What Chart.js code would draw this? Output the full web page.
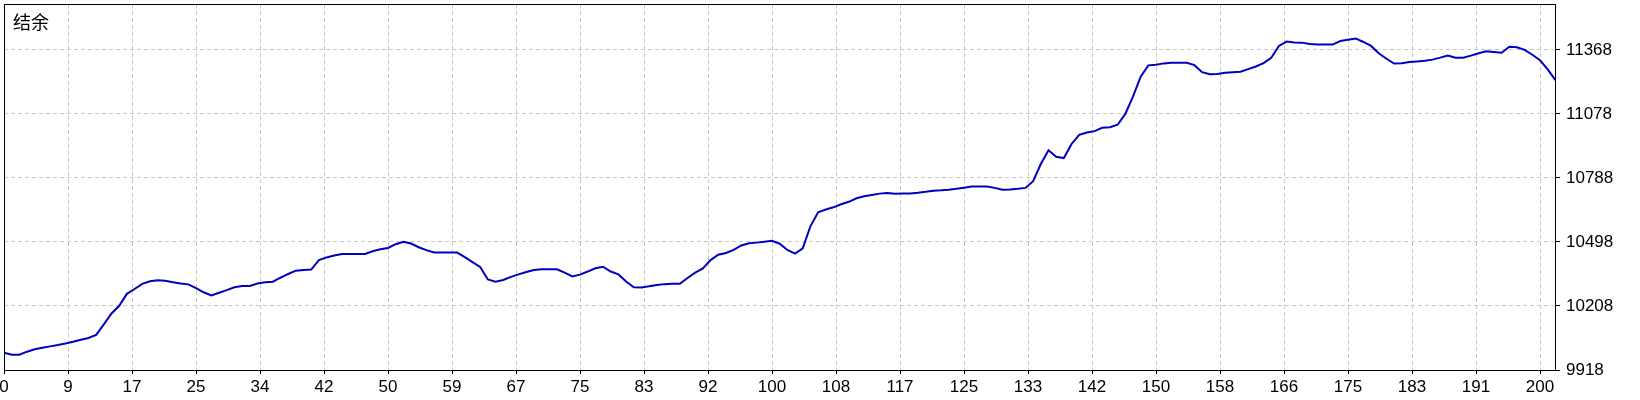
<!DOCTYPE html>
<html>
<head>
<meta charset="utf-8">
<script src="https://cdn.jsdelivr.net/npm/chart.js@4/dist/chart.umd.min.js"></script>
<style>
  html, body { margin: 0; padding: 0; background: #fff; }
  #wrap { width: 1640px; height: 400px; }
</style>
</head>
<body>
<div id="wrap"><canvas id="balance" width="1640" height="400"></canvas></div>
<script>
"use strict";

const chartTitle = '结余';

// balance per trade
const balance = [
    9996, 9987, 9987, 10001, 10012, 10019, 10025, 10031, 10038, 10046,
    10055, 10063, 10077, 10125, 10174, 10209, 10263, 10285, 10308, 10320,
    10324, 10322, 10316, 10310, 10306, 10289, 10270, 10256, 10268, 10280,
    10293, 10298, 10299, 10310, 10315, 10318, 10336, 10353, 10368, 10371,
    10373, 10416, 10428, 10437, 10443, 10444, 10444, 10444, 10456, 10465,
    10471, 10488, 10499, 10491, 10474, 10461, 10450, 10450, 10450, 10450,
    10429, 10407, 10385, 10328, 10318, 10326, 10340, 10351, 10362, 10371,
    10374, 10374, 10374, 10359, 10342, 10350, 10364, 10379, 10386, 10364,
    10351, 10319, 10293, 10292, 10297, 10303, 10307, 10309, 10309, 10335,
    10359, 10378, 10416, 10440, 10448, 10462, 10482, 10492, 10495, 10499,
    10503, 10490, 10462, 10445, 10469, 10569, 10632, 10645, 10655, 10669,
    10680, 10696, 10705, 10711, 10717, 10720, 10716, 10717, 10718, 10721,
    10725, 10730, 10732, 10735, 10739, 10744, 10749, 10749, 10749, 10743,
    10735, 10736, 10739, 10743, 10773, 10851, 10913, 10884, 10878, 10942,
    10983, 10994, 11000, 11015, 11018, 11029, 11078, 11156, 11247, 11298,
    11301, 11307, 11310, 11310, 11310, 11299, 11267, 11258, 11259, 11265,
    11267, 11269, 11281, 11293, 11308, 11332, 11386, 11406, 11402, 11401,
    11395, 11392, 11392, 11392, 11408, 11414, 11420, 11404, 11386, 11353,
    11328, 11306, 11308, 11313, 11316, 11319, 11324, 11333, 11343, 11333,
    11333, 11342, 11353, 11362, 11359, 11355, 11382, 11380, 11368, 11346,
    11321, 11280, 11231
];

const xTickLabels = ['0', '9', '17', '25', '34', '42', '50', '59', '67', '75', '83', '92', '100',
    '108', '117', '125', '133', '142', '150', '158', '166', '175', '183', '191', '200'];
const xLast = 200;
const yTickValues = [9918, 10208, 10498, 10788, 11078, 11368];
const yMin = 9918;
const yMax = 11576;
const xMax = 202.08;

const lineColor = '#0000c0';
const gridColor = '#c8c8c8';
const font = { family: '"Liberation Sans", Arial, sans-serif', size: 17 };

// tick positions spread evenly from 0 to the last label
const xTickPos = xTickLabels.map((_, k) => k * xLast / (xTickLabels.length - 1));

const frame = {
    id: 'frame',
    afterDatasetsDraw(chart) {
        const a = chart.chartArea;
        const ctx = chart.ctx;
        ctx.save();
        ctx.strokeStyle = '#000';
        ctx.lineWidth = 1;
        ctx.strokeRect(a.left + 0.5, a.top + 0.5, a.right - a.left - 1, a.bottom - a.top);
        ctx.fillStyle = '#000';
        ctx.font = '18px "Noto Sans CJK SC", sans-serif';
        ctx.textBaseline = 'middle';
        ctx.fillText(chartTitle, a.left + 9, a.top + 18);
        ctx.restore();
    }
};

const canvas = document.getElementById('balance');

new Chart(canvas, {
    type: 'line',
    data: {
        datasets: [{
            data: balance.map((v, i) => ({ x: i, y: v })),
            borderColor: lineColor,
            borderWidth: 2,
            pointRadius: 0,
            tension: 0,
            fill: false,
        }]
    },
    options: {
        responsive: false,
        animation: false,
        layout: { padding: { left: 4, top: 4, right: 0, bottom: 0 } },
        plugins: {
            legend: { display: false },
            tooltip: { enabled: false },
        },
        scales: {
            x: {
                type: 'linear',
                min: 0,
                max: xMax,
                afterBuildTicks: (scale) => { scale.ticks = xTickPos.map(v => ({ value: v })); },
                afterFit: (scale) => {
                    scale.height = 30;
                    scale.paddingLeft = 0;
                    scale.paddingRight = 0;
                },
                grid: { color: gridColor, tickColor: '#000', tickLength: 4 },
                border: { display: false, dash: [4, 3] },
                ticks: {
                    autoSkip: false,
                    maxRotation: 0,
                    color: '#000',
                    font: font,
                    padding: 3,
                    callback: (value, index) => xTickLabels[index],
                },
            },
            y: {
                position: 'right',
                min: yMin,
                max: yMax,
                afterBuildTicks: (scale) => { scale.ticks = yTickValues.map(v => ({ value: v })); },
                afterFit: (scale) => {
                    scale.width = 84;
                    scale.paddingTop = 0;
                    scale.paddingBottom = 0;
                },
                grid: { color: gridColor, tickColor: '#000', tickLength: 4 },
                border: { display: false, dash: [4, 3] },
                ticks: {
                    color: '#000',
                    font: font,
                    padding: 6,
                    callback: (value) => String(value),
                },
            },
        },
    },
    plugins: [frame],
});
</script>
</body>
</html>
